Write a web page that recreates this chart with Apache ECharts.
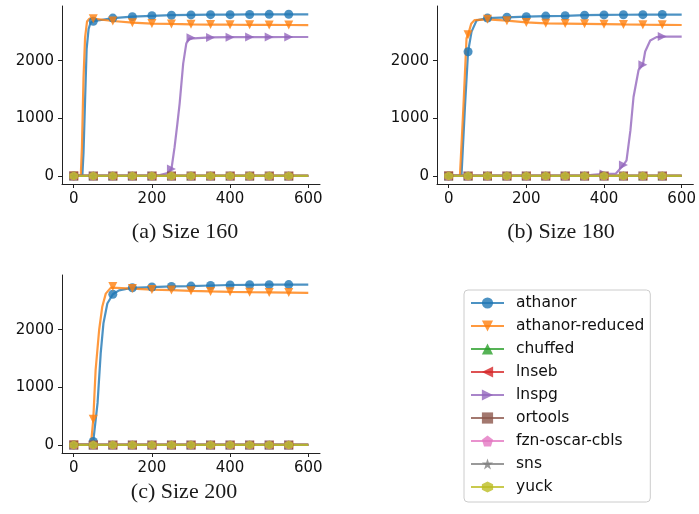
<!DOCTYPE html>
<html>
<head>
<meta charset="utf-8">
<script src="https://cdn.jsdelivr.net/npm/echarts@6/dist/echarts.min.js"></script>
<style>
html,body{margin:0;padding:0;background:#fff;}
#chart{width:699px;height:514px;}
</style>
</head>
<body>
<div id="chart"></div>
<script>
// ---------- data ----------
const solvers = ['athanor','athanor-reduced','chuffed','lnseb','lnspg','ortools','fzn-oscar-cbls','sns','yuck'];
const panelTitles = ['(a) Size 160','(b) Size 180','(c) Size 200'];
const xTicks = [0,200,400,600];
const yTicks = [0,1000,2000];
const markerTimes = [0,50,100,150,200,250,300,350,400,450,500,550];

// runs that stay at zero
const zeroRun = [[0,0],[50,0],[100,0],[150,0],[200,0],[250,0],[300,0],[350,0],[400,0],[450,0],[500,0],[550,0],[600,0]];

// (a) Size 160
const a_athanor = [[0,0],[22,0],[25,400],[29,1300],[33,2200],[38,2550],[43,2660],[50,2685],[100,2740],[150,2765],[200,2780],[250,2790],[300,2795],[350,2800],[400,2800],[450,2803],[500,2805],[550,2806],[600,2806]];
const a_reduced = [[0,0],[18,0],[21,500],[25,1700],[29,2400],[34,2680],[40,2730],[50,2730],[100,2690],[150,2660],[200,2645],[250,2638],[300,2632],[350,2628],[400,2625],[450,2623],[500,2622],[550,2620],[600,2618]];
const a_lnspg = [[0,0],[50,0],[100,0],[150,0],[200,0],[220,15],[240,50],[250,120],[258,500],[265,900],[271,1260],[280,1950],[288,2300],[296,2385],[300,2400],[350,2405],[400,2408],[450,2410],[500,2410],[550,2412],[600,2412]];

// (b) Size 180
const b_athanor = [[0,0],[33,0],[42,1200],[50,2155],[59,2505],[72,2700],[100,2740],[150,2754],[200,2765],[250,2775],[300,2780],[350,2790],[400,2795],[450,2798],[500,2800],[550,2802],[600,2802]];
const b_reduced = [[0,0],[29,0],[38,1200],[46,2390],[50,2450],[58,2640],[67,2705],[100,2718],[150,2695],[200,2665],[250,2650],[300,2645],[350,2640],[400,2635],[450,2630],[500,2626],[550,2624],[600,2620]];
const b_lnspg = [[0,0],[50,0],[100,0],[150,0],[200,0],[250,0],[300,0],[350,0],[370,20],[400,35],[430,40],[445,150],[450,190],[458,270],[468,790],[476,1370],[489,1840],[500,1930],[506,2160],[519,2350],[535,2410],[550,2420],[600,2420]];

// (c) Size 200
const c_athanor = [[0,0],[48,0],[50,60],[61,730],[69,1590],[76,2110],[86,2455],[100,2615],[116,2684],[150,2728],[200,2741],[250,2752],[300,2758],[350,2768],[400,2776],[450,2780],[500,2782],[550,2784],[600,2784]];
const c_reduced = [[0,0],[44,0],[50,445],[56,1300],[65,1995],[73,2400],[82,2627],[95,2731],[100,2750],[150,2714],[200,2697],[250,2688],[300,2675],[350,2665],[400,2658],[450,2652],[500,2648],[550,2645],[600,2640]];

const panelData = [
  {athanor:a_athanor,'athanor-reduced':a_reduced,lnspg:a_lnspg},
  {athanor:b_athanor,'athanor-reduced':b_reduced,lnspg:b_lnspg},
  {athanor:c_athanor,'athanor-reduced':c_reduced,lnspg:zeroRun}
];

// ---------- styles ----------
const colors = {
  'athanor':'31,119,180','athanor-reduced':'255,127,14','chuffed':'44,160,44','lnseb':'214,39,40',
  'lnspg':'148,103,189','ortools':'140,86,75','fzn-oscar-cbls':'227,119,194','sns':'127,127,127','yuck':'188,189,34'
};
const symbols = {
  'athanor':'circle',
  'athanor-reduced':'path://M0,0 L10,0 L5,10 Z',
  'chuffed':'path://M5,0 L10,10 L0,10 Z',
  'lnseb':'path://M0,5 L10,0 L10,10 Z',
  'lnspg':'path://M0,0 L10,5 L0,10 Z',
  'ortools':'rect',
  'fzn-oscar-cbls':'path://M5,0 L10,3.8 L8.1,10 L1.9,10 L0,3.8 Z',
  'sns':'path://M5,0 L6.2,3.6 L10,3.6 L6.9,5.9 L8.1,9.6 L5,7.3 L1.9,9.6 L3.1,5.9 L0,3.6 L3.8,3.6 Z',
  'yuck':'path://M5,0 L9.33,2.5 L9.33,7.5 L5,10 L0.67,7.5 L0.67,2.5 Z'
};
const symSize = {'athanor':9,'athanor-reduced':9,'chuffed':9,'lnseb':9,'lnspg':9,'ortools':9,'fzn-oscar-cbls':9,'sns':8,'yuck':9};

const grids = [
  {left:62, top:6, width:258, height:178},
  {left:437, top:6, width:258, height:178},
  {left:62, top:275, width:258, height:178}
];

const axisText = {fontFamily:'DejaVu Sans', fontSize:15, color:'#111', formatter:v=>String(v)};
const xAxes = grids.map((g,i)=>({
  type:'value', gridIndex:i, min:-30, max:630,
  axisLine:{show:true, onZero:false, lineStyle:{color:'#222', width:1}},
  axisTick:{show:true, length:4, lineStyle:{color:'#222'}, customValues:xTicks},
  axisLabel:Object.assign({margin:8, customValues:xTicks}, axisText),
  splitLine:{show:false}
}));
const yAxes = grids.map((g,i)=>({
  type:'value', gridIndex:i, min:-140, max:2950,
  axisLine:{show:true, onZero:false, lineStyle:{color:'#222', width:1}},
  axisTick:{show:true, length:4, lineStyle:{color:'#222'}, customValues:yTicks},
  axisLabel:Object.assign({margin:8, customValues:yTicks}, axisText),
  splitLine:{show:false}
}));

function buildData(points){
  return points.map(p => markerTimes.indexOf(p[0]) >= 0 ? {value:p} : {value:p, symbol:'none'});
}

const series = [];
for (let pi=0; pi<3; pi++){
  solvers.forEach(name=>{
    const pts = panelData[pi][name] || zeroRun;
    const c = colors[name];
    series.push({
      type:'line', name:name, xAxisIndex:pi, yAxisIndex:pi,
      data:buildData(pts),
      symbol:symbols[name], symbolSize:symSize[name], showAllSymbol:true,
      lineStyle:{color:'rgba('+c+',0.8)', width:2.2},
      itemStyle:{color:'rgba('+c+',0.8)', borderWidth:0},
      emphasis:{disabled:true},
      animation:false, clip:false
    });
  });
}

const titlePos = [[185,232],[561,232],[184,492]];
const graphics = panelTitles.map((t,i)=>({
  type:'text', x:titlePos[i][0], y:titlePos[i][1],
  style:{text:t, fontFamily:'Liberation Serif', fontSize:22, fill:'#1a1a1a', textAlign:'center', textVerticalAlign:'middle'}
}));

const chart = echarts.init(document.getElementById('chart'), null, {renderer:'canvas'});
chart.setOption({
  animation:false,
  grid:grids,
  xAxis:xAxes,
  yAxis:yAxes,
  series:series,
  graphic:graphics,
  legend:{
    data:solvers, orient:'vertical', left:464, top:290,
    padding:[5,6,7,6], itemGap:7, itemWidth:33, itemHeight:14,
    borderColor:'#ccc', borderWidth:1, borderRadius:4,
    textStyle:{fontFamily:'DejaVu Sans', fontSize:15.5, color:'#111', padding:[0,0,0,7]},
    selectedMode:false
  }
});
</script>
</body>
</html>
